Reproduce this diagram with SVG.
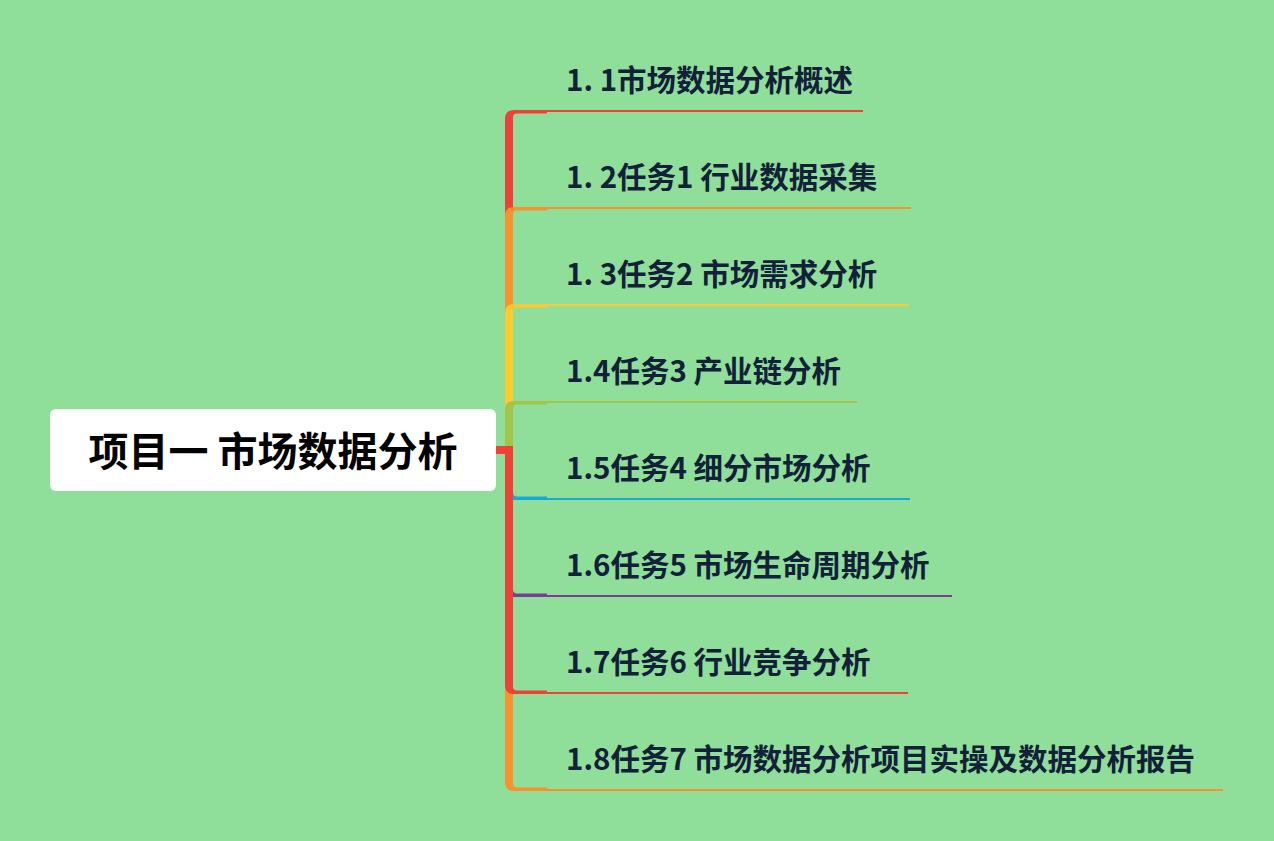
<svg xmlns="http://www.w3.org/2000/svg" width="1274" height="841" viewBox="0 0 1274 841">
<style>
.lbl{font-family:"Noto Sans CJK SC","Noto Sans",sans-serif;font-weight:700;font-size:29.5px;fill:#13203a}
.root{font-family:"Noto Sans CJK SC","Noto Sans",sans-serif;font-weight:700;font-size:40px;fill:#000}
</style>
<rect width="1274" height="841" fill="#8fde99"/>
<g id="connectors">
  <g fill="#ef4136"><path d="M505 454 L505 119 Q505 110 514 110 L547 110 L547 113.5 L517 113.5 Q513 113.5 513 117.5 L513 454 Z"/><rect x="547" y="110" width="316" height="2"/></g>
  <g fill="#f8922f"><path d="M505 454 L505 216 Q505 207 514 207 L547 207 L547 210.5 L517 210.5 Q513 210.5 513 214.5 L513 454 Z"/><rect x="547" y="207" width="364" height="2"/></g>
  <g fill="#fdca30"><path d="M505 454 L505 313 Q505 304 514 304 L547 304 L547 307.5 L517 307.5 Q513 307.5 513 311.5 L513 454 Z"/><rect x="547" y="304" width="362" height="2"/></g>
  <g fill="#a3c34a"><path d="M505 454 L505 410 Q505 401 514 401 L547 401 L547 404.5 L517 404.5 Q513 404.5 513 408.5 L513 454 Z"/><rect x="547" y="401" width="310" height="2"/></g>
  <g fill="#f8922f"><path d="M505 446 L505 782 Q505 791 514 791 L547 791 L547 787.5 L517 787.5 Q513 787.5 513 783.5 L513 446 Z"/><rect x="547" y="789" width="676" height="2"/></g>
  <g fill="#17a9d7"><path d="M505 446 L505 491 Q505 500 514 500 L547 500 L547 496.5 L517 496.5 Q513 496.5 513 492.5 L513 446 Z"/><rect x="547" y="498" width="363" height="2"/></g>
  <g fill="#7f3b98"><path d="M505 446 L505 588 Q505 597 514 597 L547 597 L547 593.5 L517 593.5 Q513 593.5 513 589.5 L513 446 Z"/><rect x="547" y="595" width="405" height="2"/></g>
  <g fill="#ef4136"><path d="M505 446 L505 685 Q505 694 514 694 L547 694 L547 690.5 L517 690.5 Q513 690.5 513 686.5 L513 446 Z"/><rect x="547" y="692" width="361" height="2"/></g>
  <rect x="494" y="446" width="15" height="8" fill="#ef4136"/>
</g>
<g id="root">
  <rect x="50" y="409" width="446" height="82" rx="6" fill="#ffffff"/>
  <text class="root" x="273" y="466" text-anchor="middle">项目一 市场数据分析</text>
</g>
<g id="n1"><text class="lbl" x="566" y="90.5">1. 1市场数据分析概述</text></g>
<g id="n2"><text class="lbl" x="566" y="187.5">1. 2任务1 行业数据采集</text></g>
<g id="n3"><text class="lbl" x="566" y="284.5">1. 3任务2 市场需求分析</text></g>
<g id="n4"><text class="lbl" x="566" y="381.5">1.4任务3 产业链分析</text></g>
<g id="n5"><text class="lbl" x="566" y="479">1.5任务4 细分市场分析</text></g>
<g id="n6"><text class="lbl" x="566" y="576">1.6任务5 市场生命周期分析</text></g>
<g id="n7"><text class="lbl" x="566" y="673">1.7任务6 行业竞争分析</text></g>
<g id="n8"><text class="lbl" x="566" y="770">1.8任务7 市场数据分析项目实操及数据分析报告</text></g>
</svg>
